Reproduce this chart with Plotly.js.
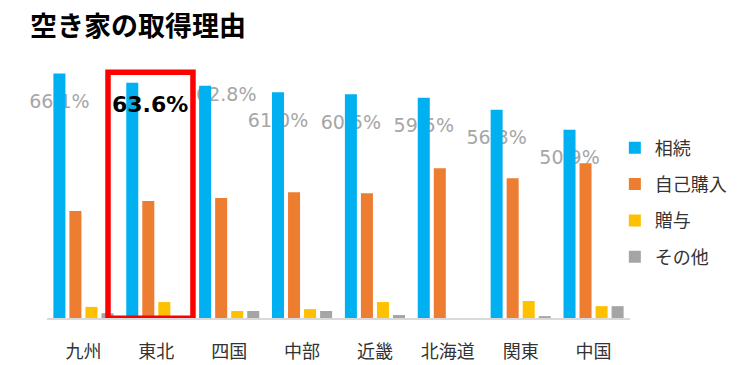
<!DOCTYPE html>
<html><head><meta charset="utf-8">
<script src="https://cdn.plot.ly/plotly-3.0.1.min.js"></script>
<style>html,body{margin:0;padding:0;background:#fff}#c{width:755px;height:365px}</style>
</head><body><div id="c"></div>
<script>
const categories = ['九州','東北','四国','中部','近畿','北海道','関東','中国'];
const seriesNames = ['相続','自己購入','贈与','その他'];
const souzoku = [66.1, 63.6, 62.8, 61.0, 60.5, 59.5, 56.3, 50.9];
const jikoKonyu = [28.9, 31.6, 32.4, 34.0, 33.7, 40.5, 37.8, 41.8];
const zouyo = [3.0, 4.3, 1.9, 2.4, 4.3, 0, 4.6, 3.2];
const sonota = [1.3, 0.5, 1.9, 1.9, 0.8, 0, 0.5, 3.2];
const highlightIndex = 1;

const colors = ['#00B0F0','#ED7D31','#FFC000','#A5A5A5'];
const jp = '"Noto Sans CJK JP", "Noto Sans", sans-serif';
const numFont = '"DejaVu Sans", "Noto Sans", sans-serif';
const values = [souzoku, jikoKonyu, zouyo, sonota];
const yMax = 70;
const nCat = categories.length;

const traces = values.map((v, k) => ({
  type: 'bar', x: categories, y: v, name: seriesNames[k],
  marker: {color: colors[k]}, legendgroup: 'g' + k, hoverinfo: 'skip'
}));

const bargap = 0.12, nSeries = 4;
const slot = (1 - bargap) / nSeries;
const blueOffset = -1.5 * slot;

// convert category index / data value to paper fraction (labels may sit outside plot area)
const px = i => (i + 0.5) / nCat;
const py = v => v / yMax;

// label placement tweaks (style, not data)
const labelStyle = {drop: 7.2, special: {2: {drop: 2.1, dx: 0.29}}};

const shapes = [];
souzoku.forEach((v, i) => {
  if (i === highlightIndex) return;
  const sp = labelStyle.special[i] || {};
  const drop = sp.drop !== undefined ? sp.drop : labelStyle.drop;
  const cx = i + blueOffset + (sp.dx || 0);
  shapes.push({
    type: 'line', layer: 'below', xref: 'paper', yref: 'paper',
    x0: px(cx - 0.4), x1: px(cx + 0.4),
    y0: py(v - drop), y1: py(v - drop),
    line: {width: 0, color: 'rgba(0,0,0,0)'},
    label: {text: v.toFixed(1) + '%', textposition: 'middle', textangle: 0,
      yanchor: 'middle', padding: 0,
      font: {family: numFont, size: 19, color: '#A6A6A6'}}
  });
});
shapes.push({
  type: 'rect', layer: 'above', xref: 'x', yref: 'y',
  x0: highlightIndex - 0.663, x1: highlightIndex + 0.503,
  y0: -0.1, y1: 66.4,
  line: {color: '#FF0000', width: 5.5}, fillcolor: 'rgba(0,0,0,0)'
});

const annotations = [{
  xref: 'x', yref: 'y', x: highlightIndex - 0.087, y: souzoku[highlightIndex] - 5.9,
  text: '<b>' + souzoku[highlightIndex].toFixed(1) + '%</b>', showarrow: false,
  font: {family: numFont, size: 22, color: '#000'},
  xanchor: 'center', yanchor: 'middle'
}];

const layout = {
  width: 755, height: 365,
  margin: {l: 47, r: 125, t: 58.5, b: 47, autoexpand: false},
  paper_bgcolor: '#fff', plot_bgcolor: '#fff',
  title: {text: '<b>空き家の取得理由</b>', x: 30/755, xref: 'container', xanchor: 'left',
    y: 1 - 27/365, yref: 'container', yanchor: 'middle',
    font: {family: jp, size: 27, color: '#000'}},
  barmode: 'group', bargap: bargap, bargroupgap: 0.25,
  xaxis: {type: 'category', range: [-0.5, nCat - 0.5], autorange: false,
    showgrid: false, showline: true, linecolor: '#D9D9D9', linewidth: 2,
    ticks: 'outside', ticklen: 16, tickcolor: 'rgba(0,0,0,0)', automargin: false,
    tickfont: {family: jp, size: 18, color: '#333'}, zeroline: false, fixedrange: true},
  yaxis: {range: [0, yMax], autorange: false, visible: false, showgrid: false, zeroline: false, fixedrange: true, automargin: false},
  showlegend: true,
  legend: {x: 0.974, xanchor: 'left', y: 0.728, yanchor: 'top', traceorder: 'grouped',
    tracegroupgap: 10, font: {family: jp, size: 18, color: '#333'}, bgcolor: 'rgba(0,0,0,0)'},
  shapes: shapes, annotations: annotations
};

Plotly.newPlot('c', traces, layout, {staticPlot: true, displayModeBar: false});
</script></body></html>
